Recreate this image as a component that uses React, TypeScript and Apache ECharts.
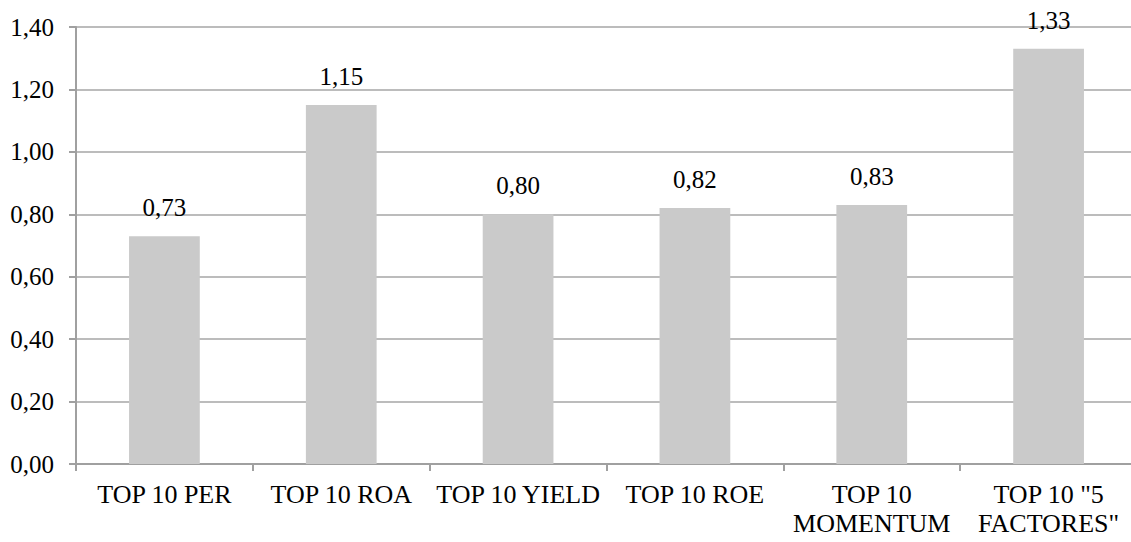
import React, { useEffect, useRef } from "react";
import * as echarts from "echarts";

const categories = [
  "TOP 10 PER",
  "TOP 10 ROA",
  "TOP 10 YIELD",
  "TOP 10 ROE",
  "TOP 10\nMOMENTUM",
  "TOP 10 \"5\nFACTORES\"",
];
const values = [0.73, 1.15, 0.8, 0.82, 0.83, 1.33];
const yMin = 0;
const yMax = 1.4;
const yStep = 0.2;

const fmt = (v: number) => v.toFixed(2).replace(".", ",");
const FONT = "Liberation Serif";

export default function App() {
  const ref = useRef<HTMLDivElement>(null);
  useEffect(() => {
    if (!ref.current) return;
    const chart = echarts.init(ref.current, null, { renderer: "svg" });
    chart.setOption({
      animation: false,
      backgroundColor: "#ffffff",
      textStyle: { fontFamily: FONT },
      grid: { left: 76, top: 27, width: 1061, height: 437, containLabel: false, outerBoundsMode: "none" },
      xAxis: {
        type: "category",
        data: categories,
        axisLine: { show: true, lineStyle: { color: "#a0a0a0", width: 2 } },
        axisTick: { show: true, length: 7, lineStyle: { color: "#a0a0a0", width: 2 } },
        axisLabel: {
          color: "#000",
          fontFamily: FONT,
          fontSize: 26,
          lineHeight: 29,
          margin: 16,
          interval: 0,
        },
      },
      yAxis: {
        type: "value",
        min: yMin,
        max: yMax,
        interval: yStep,
        axisLine: { show: true, lineStyle: { color: "#a0a0a0", width: 2 } },
        axisTick: { show: true, length: 7, lineStyle: { color: "#a0a0a0", width: 2 } },
        splitLine: { show: true, lineStyle: { color: "#a6a6a6", width: 1.5 } },
        axisLabel: {
          color: "#000",
          fontFamily: FONT,
          fontSize: 25,
          margin: 22,
          formatter: (v: number) => fmt(v),
        },
      },
      series: [
        {
          type: "bar",
          data: values,
          barWidth: "40%",
          itemStyle: { color: "#cacaca" },
          label: {
            show: true,
            position: "top",
            distance: 16,
            color: "#000",
            fontFamily: FONT,
            fontSize: 25,
            formatter: (p: any) => fmt(p.value),
          },
        },
      ],
    });
    return () => chart.dispose();
  }, []);
  return (
    <div
      ref={ref}
      style={{ position: "fixed", left: 0, top: 0, width: 1131, height: 542, background: "#fff" }}
    />
  );
}
